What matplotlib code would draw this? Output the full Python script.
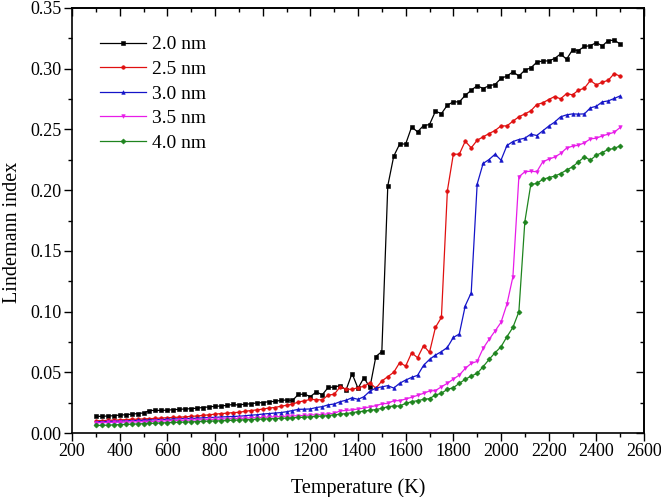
import matplotlib
matplotlib.use("Agg")
import matplotlib.pyplot as plt
import numpy as np
from matplotlib.ticker import MultipleLocator, FormatStrFormatter

plt.rcParams['font.family'] = ['Liberation Serif', 'DejaVu Serif']

temperature = list(range(300, 2501, 25))

idx_20 = [0.0137, 0.0137, 0.0140, 0.0142, 0.0148, 0.0150, 0.0155, 0.0160, 0.0165, 0.0185,
          0.0186, 0.0186, 0.0188, 0.0192, 0.0195, 0.0198, 0.0200, 0.0205, 0.0210, 0.0215,
          0.0220, 0.0222, 0.0228, 0.0235, 0.0230, 0.0238, 0.0240, 0.0248, 0.0250, 0.0258,
          0.0260, 0.0268, 0.0272, 0.0268, 0.0318, 0.0320, 0.0300, 0.0338, 0.0315, 0.0375,
          0.0378, 0.0390, 0.0355, 0.0490, 0.0368, 0.0455, 0.0375, 0.0630,
          0.0670, 0.2036, 0.2280, 0.2380, 0.2380, 0.2520, 0.2480, 0.2532, 0.2540, 0.2650,
          0.2630, 0.2700, 0.2727, 0.2727, 0.2780, 0.2823, 0.2860, 0.2837, 0.2860, 0.2870,
          0.2920, 0.2940, 0.2974, 0.2940, 0.2988, 0.3007, 0.3053, 0.3064, 0.3064, 0.3084,
          0.3122, 0.3078, 0.3155, 0.3150, 0.3183, 0.3190, 0.3215, 0.3188, 0.3232, 0.3235,
          0.3204]

idx_25 = [0.0100, 0.0102, 0.0104, 0.0106, 0.0108, 0.0110, 0.0112, 0.0114, 0.0116, 0.0118,
          0.0120, 0.0123, 0.0126, 0.0128, 0.0130, 0.0133, 0.0137, 0.0140, 0.0145, 0.0150,
          0.0155, 0.0160, 0.0163, 0.0168, 0.0170, 0.0178, 0.0185, 0.0190, 0.0197, 0.0205,
          0.0210, 0.0220, 0.0228, 0.0238, 0.0255, 0.0265, 0.0277, 0.0275, 0.0272, 0.0313,
          0.0318, 0.0380, 0.0360, 0.0360, 0.0373, 0.0385, 0.0414, 0.0368,
          0.0428, 0.0464, 0.0500, 0.0580, 0.0551, 0.0660, 0.0620, 0.0719, 0.0664, 0.0870,
          0.0952, 0.1995, 0.2296, 0.2296, 0.2403, 0.2348, 0.2411, 0.2439, 0.2466, 0.2491,
          0.2529, 0.2529, 0.2568, 0.2604, 0.2628, 0.2653, 0.2705, 0.2719, 0.2746, 0.2771,
          0.2752, 0.2795, 0.2785, 0.2823, 0.2840, 0.2903, 0.2867, 0.2889, 0.2905, 0.2960,
          0.2938]

idx_30 = [0.0093, 0.0094, 0.0095, 0.0097, 0.0098, 0.0100, 0.0102, 0.0104, 0.0105, 0.0107,
          0.0109, 0.0111, 0.0113, 0.0115, 0.0117, 0.0119, 0.0120, 0.0122, 0.0125, 0.0127,
          0.0129, 0.0132, 0.0134, 0.0136, 0.0138, 0.0142, 0.0147, 0.0150, 0.0156, 0.0160,
          0.0164, 0.0168, 0.0175, 0.0185, 0.0195, 0.0196, 0.0198, 0.0210, 0.0217, 0.0232,
          0.0239, 0.0258, 0.0270, 0.0290, 0.0277, 0.0299, 0.0345, 0.0370,
          0.0380, 0.0390, 0.0370, 0.0410, 0.0436, 0.0458, 0.0475, 0.0557, 0.0606, 0.0642,
          0.0670, 0.0705, 0.0787, 0.0815, 0.1048, 0.1155, 0.2050, 0.2220, 0.2252, 0.2296,
          0.2247, 0.2368, 0.2400, 0.2417, 0.2428, 0.2461, 0.2450, 0.2488, 0.2527, 0.2560,
          0.2604, 0.2620, 0.2628, 0.2626, 0.2628, 0.2678, 0.2691, 0.2727, 0.2735, 0.2755,
          0.2776]

idx_35 = [0.0085, 0.0086, 0.0087, 0.0088, 0.0089, 0.0090, 0.0091, 0.0092, 0.0093, 0.0094,
          0.0096, 0.0098, 0.0101, 0.0102, 0.0104, 0.0105, 0.0107, 0.0108, 0.0110, 0.0112,
          0.0113, 0.0115, 0.0117, 0.0118, 0.0120, 0.0122, 0.0124, 0.0126, 0.0129, 0.0131,
          0.0133, 0.0135, 0.0138, 0.0140, 0.0142, 0.0145, 0.0148, 0.0150, 0.0153, 0.0157,
          0.0162, 0.0182, 0.0186, 0.0190, 0.0198, 0.0205, 0.0215, 0.0225,
          0.0240, 0.0244, 0.0266, 0.0266, 0.0280, 0.0294, 0.0310, 0.0327, 0.0346, 0.0349,
          0.0381, 0.0409, 0.0444, 0.0477, 0.0532, 0.0573, 0.0590, 0.0697, 0.0771, 0.0840,
          0.0911, 0.1062, 0.1287, 0.2110, 0.2151, 0.2156, 0.2151, 0.2233, 0.2255, 0.2272,
          0.2302, 0.2346, 0.2362, 0.2370, 0.2390, 0.2422, 0.2428, 0.2447, 0.2461, 0.2477,
          0.2516]

idx_40 = [0.0062, 0.0063, 0.0065, 0.0067, 0.0069, 0.0071, 0.0073, 0.0075, 0.0077, 0.0079,
          0.0081, 0.0083, 0.0085, 0.0087, 0.0089, 0.0090, 0.0092, 0.0094, 0.0096, 0.0098,
          0.0099, 0.0101, 0.0103, 0.0105, 0.0107, 0.0109, 0.0111, 0.0113, 0.0115, 0.0117,
          0.0119, 0.0121, 0.0123, 0.0126, 0.0128, 0.0130, 0.0134, 0.0137, 0.0140, 0.0143,
          0.0150, 0.0155, 0.0160, 0.0167, 0.0175, 0.0180, 0.0187, 0.0193,
          0.0203, 0.0217, 0.0222, 0.0222, 0.0244, 0.0258, 0.0266, 0.0277, 0.0283, 0.0313,
          0.0327, 0.0360, 0.0373, 0.0409, 0.0442, 0.0469, 0.0491, 0.0546, 0.0606, 0.0661,
          0.0710, 0.0793, 0.0870, 0.0998, 0.1740, 0.2047, 0.2055, 0.2088, 0.2104, 0.2115,
          0.2137, 0.2165, 0.2192, 0.2233, 0.2274, 0.2247, 0.2288, 0.2310, 0.2335, 0.2343,
          0.2365]

labels = ['2.0 nm', '2.5 nm', '3.0 nm', '3.5 nm', '4.0 nm']
series = [idx_20, idx_25, idx_30, idx_35, idx_40]
colors = ['#000000', '#e01010', '#1414c8', '#e81ce8', '#1e841e']
markers = ['s', 'o', '^', 'v', 'D']

fig = plt.figure(figsize=(6.61, 4.97), dpi=100)
ax = fig.add_axes([72/661, 1-433/497, (644-72)/661, (433-8)/497])

for vals, lab, c, m in zip(series, labels, colors, markers):
    ax.plot(temperature, vals, color=c, marker=m, markersize=2.6, linewidth=0.9,
            markeredgewidth=0.4, label=lab)

ax.set_xlim(200, 2600)
ax.set_ylim(0, 0.35)
ax.xaxis.set_major_locator(MultipleLocator(200))
ax.xaxis.set_minor_locator(MultipleLocator(100))
ax.yaxis.set_major_locator(MultipleLocator(0.05))
ax.yaxis.set_minor_locator(MultipleLocator(0.025))
ax.yaxis.set_major_formatter(FormatStrFormatter('%.2f'))

ax.tick_params(which='both', direction='out', top=False, right=False,
               labelsize=13, width=1.0, pad=2)
ax.tick_params(which='major', length=5.5)
ax.tick_params(which='minor', length=3)

for s in ax.spines.values():
    s.set_linewidth(1.2)

secx = ax.secondary_xaxis('top')
secx.xaxis.set_major_locator(MultipleLocator(200))
secx.xaxis.set_minor_locator(MultipleLocator(100))
secx.tick_params(which='both', direction='in', labeltop=False, width=1.0)
secx.tick_params(which='major', length=5.5)
secx.tick_params(which='minor', length=3)
secx.spines['top'].set_linewidth(1.2)

secy = ax.secondary_yaxis('right')
secy.yaxis.set_major_locator(MultipleLocator(0.05))
secy.yaxis.set_minor_locator(MultipleLocator(0.025))
secy.tick_params(which='both', direction='in', labelright=False, width=1.0)
secy.tick_params(which='major', length=5.5)
secy.tick_params(which='minor', length=3)
secy.spines['right'].set_linewidth(1.2)

ax.set_xlabel('Temperature (K)', fontsize=14.5, labelpad=13)
ax.set_ylabel('Lindemann index', fontsize=14.5)
ax.yaxis.set_label_coords(-0.088, 0.473)

ax.legend(loc='upper left', bbox_to_anchor=(0.028, 0.962), frameon=False,
          fontsize=14, handlelength=2.4, handletextpad=0.3, labelspacing=0.36,
          borderaxespad=0.2)

fig.savefig('out.png', dpi=100)
